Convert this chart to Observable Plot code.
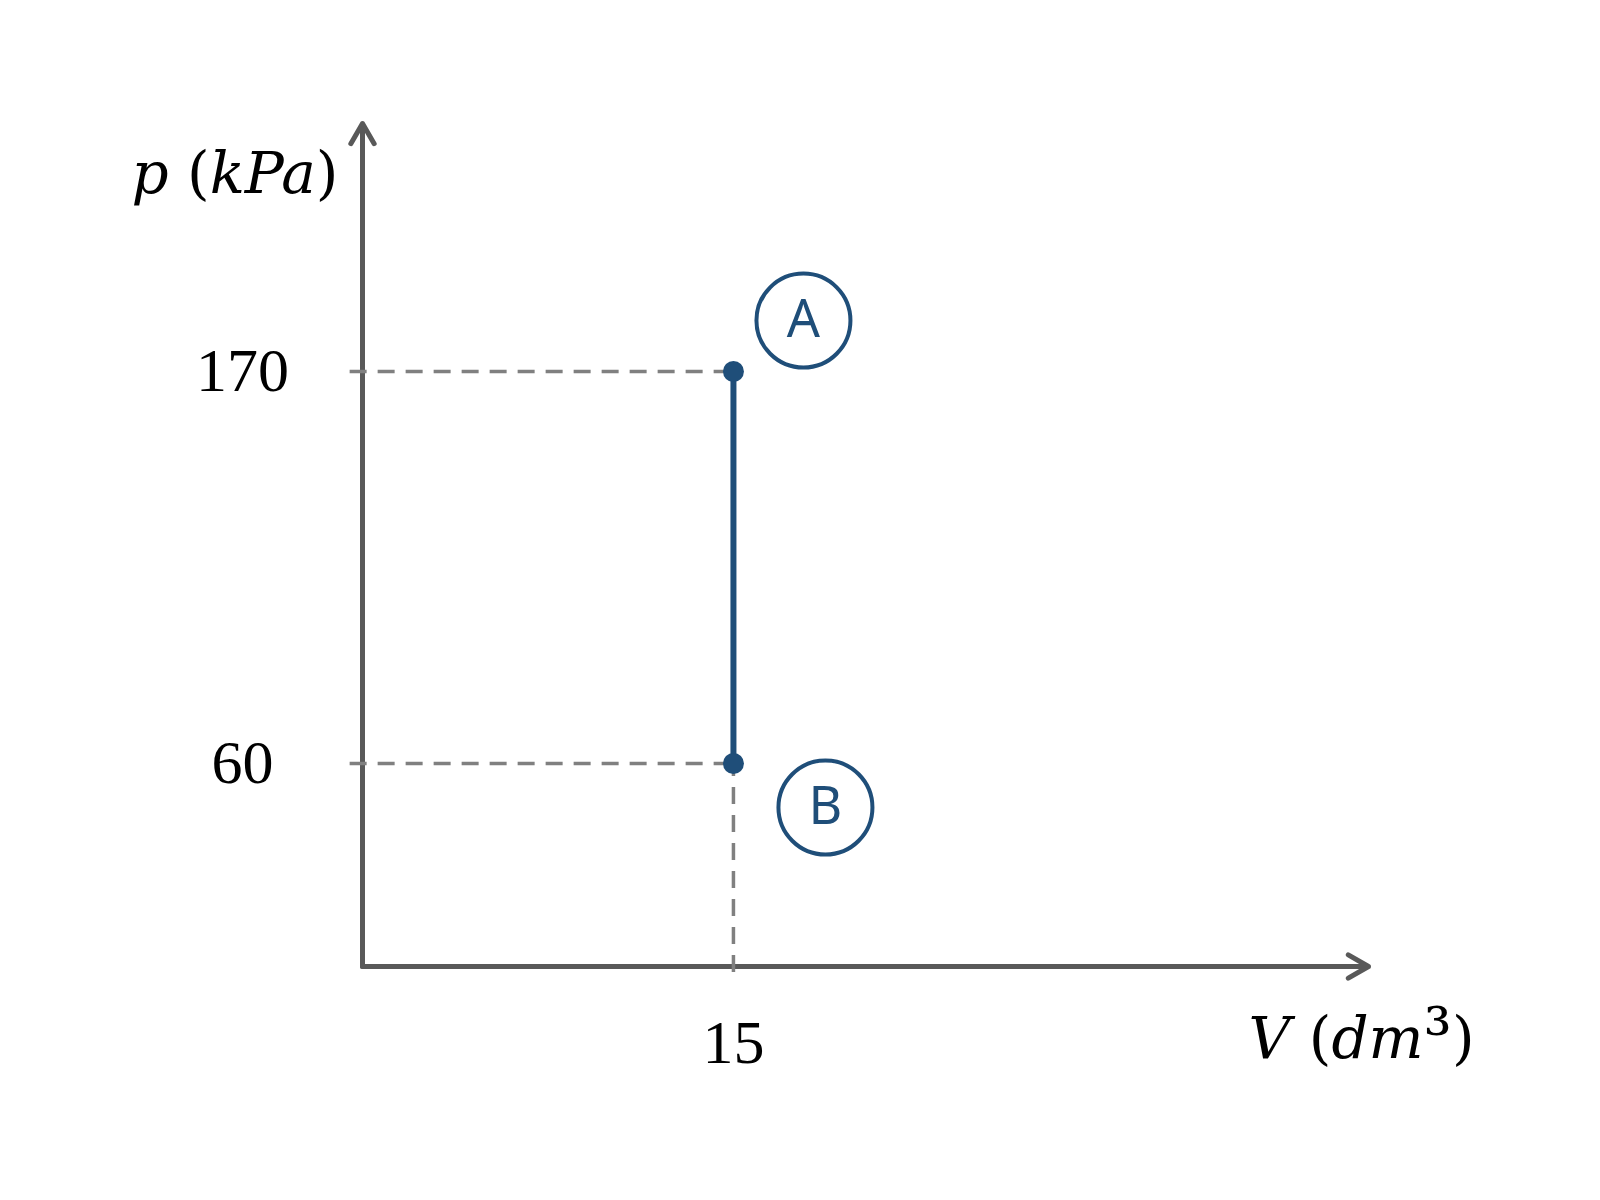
<!DOCTYPE html>
<html>
<head>
<meta charset="utf-8">
<script src="https://cdn.jsdelivr.net/npm/d3@7"></script>
<script src="https://cdn.jsdelivr.net/npm/@observablehq/plot@0.6"></script>
<style>
  html, body { margin: 0; padding: 0; background: #ffffff; }
  #chart svg { display: block; }
</style>
</head>
<body>
<div id="chart"></div>
<script>
// ---- data ----
const states = ["A", "B"];
const volumes = [15, 15];          // V (dm³)
const pressures = [170, 60];       // p (kPa)
const xTicks = [15];
const yTicks = [170, 60];
const xLabel = "V (dm³)";
const yLabel = "p (kPa)";
// axis extents (schematic diagram)
const vAxisMin = 0, vAxisMax = 40.68;
const pAxisMin = 3.04, pAxisMax = 239.6;
const guideStartV = -0.5, guideEndP = 1.35;

const points = states.map((s, i) => ({state: s, V: volumes[i], p: pressures[i]}));

const blue = "#1f4e79";
const axisGrey = "#595959";
const dashGrey = "#808080";

const plot = Plot.plot({
  width: 1600,
  height: 1200,
  marginLeft: 362,
  marginRight: 232,
  marginTop: 123,
  marginBottom: 234,
  style: {background: "#ffffff", color: "#000000", overflow: "visible"},
  x: {domain: [vAxisMin, vAxisMax], label: null},
  y: {domain: [pAxisMin, pAxisMax], label: null},
  marks: [
    // axes as arrows
    Plot.arrow([0], {x1: () => vAxisMin, y1: () => pAxisMin, x2: () => vAxisMin, y2: () => pAxisMax,
      stroke: axisGrey, strokeWidth: 5, headLength: 7, headAngle: 60}),
    Plot.arrow([0], {x1: () => vAxisMin, y1: () => pAxisMin, x2: () => vAxisMax, y2: () => pAxisMin,
      stroke: axisGrey, strokeWidth: 5, headLength: 7, headAngle: 60}),
    // tick labels
    Plot.axisY({ticks: yTicks, tickSize: 0, tickPadding: 120, textAnchor: "middle", label: null,
      fontSize: 62, fontFamily: "Liberation Serif", fill: "#000000", tickFormat: d => String(d)}),
    Plot.axisX({ticks: xTicks, tickSize: 0, tickPadding: 52, label: null,
      fontSize: 62, fontFamily: "Liberation Serif", fill: "#000000", tickFormat: d => String(d)}),
    // dashed guides
    Plot.ruleY(points, {y: "p", x1: () => guideStartV, x2: "V",
      stroke: dashGrey, strokeWidth: 3.5, strokeDasharray: "17,11"}),
    Plot.ruleX(points.filter(d => d.state === "B"), {x: "V", y1: () => guideEndP, y2: "p",
      stroke: dashGrey, strokeWidth: 3.5, strokeDasharray: "17,11"}),
    // process line A -> B
    Plot.line(points, {x: "V", y: "p", stroke: blue, strokeWidth: 6}),
    Plot.dot(points, {x: "V", y: "p", r: 10.5, fill: blue, stroke: "none"}),
    // state labels in circles
    Plot.dot(points, {filter: d => d.state === "A", x: "V", y: "p", dx: 70, dy: -51, r: 47,
      fill: "#ffffff", stroke: blue, strokeWidth: 4}),
    Plot.text(points, {filter: d => d.state === "A", x: "V", y: "p", dx: 70, dy: -51, text: "state",
      fill: blue, fontSize: 52, fontFamily: "Noto Sans", lineAnchor: "middle"}),
    Plot.dot(points, {filter: d => d.state === "B", x: "V", y: "p", dx: 92, dy: 44, r: 47,
      fill: "#ffffff", stroke: blue, strokeWidth: 4}),
    Plot.text(points, {filter: d => d.state === "B", x: "V", y: "p", dx: 92, dy: 44, text: "state",
      fill: blue, fontSize: 52, fontFamily: "Noto Sans", lineAnchor: "middle"}),
    // axis titles
    Plot.text([yLabel], {frameAnchor: "top-left", text: d => d, textAnchor: "end", lineAnchor: "bottom",
      dx: -24, dy: 69, fontSize: 58, fontFamily: "DejaVu Serif", fontStyle: "italic", fill: "#000000"}),
    Plot.text([xLabel], {frameAnchor: "bottom-right", text: d => d, textAnchor: "start", lineAnchor: "bottom",
      dx: -120, dy: 91, fontSize: 58, fontFamily: "DejaVu Serif", fontStyle: "italic", fill: "#000000"})
  ]
});

// make parentheses and the exponent upright, like the math typesetting in the reference
d3.select(plot).selectAll("text").each(function () {
  const t = this.textContent;
  if (t === yLabel || t === xLabel) {
    const parts = t === yLabel
      ? [["p ", "italic"], ["(", "normal"], ["kPa", "italic"], [")", "normal"]]
      : [["V ", "italic"], ["(", "normal"], ["dm", "italic"], ["³", "normal", "1.22em"], [")", "normal"]];
    const sel = d3.select(this);
    sel.text(null);
    parts.forEach(([s, st, fs]) => {
      const ts = sel.append("tspan").attr("font-style", st).text(s);
      if (fs) ts.attr("font-size", fs);
    });
  }
});

document.getElementById("chart").appendChild(plot);
</script>
</body>
</html>
